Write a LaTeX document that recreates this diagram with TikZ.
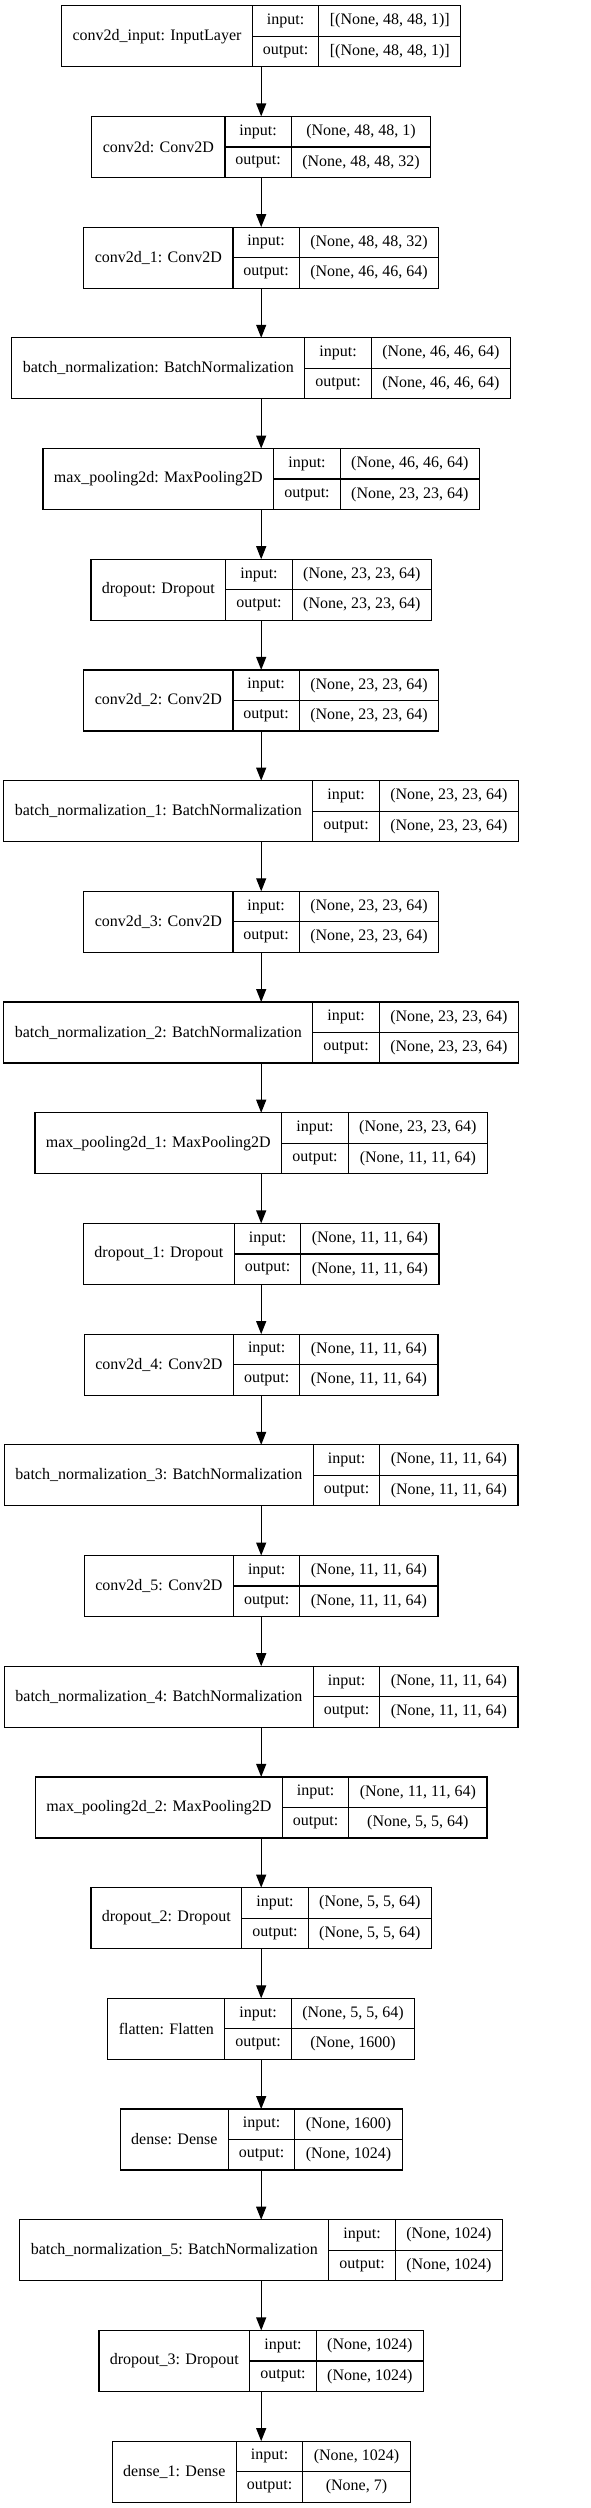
\documentclass[tikz,border=0pt]{standalone}
\usepackage{fontspec}
\setmainfont{Liberation Serif}
\usepackage{tikz}
\usetikzlibrary{arrows.meta,positioning}
\usepackage{xcolor}
\definecolor{KerasBlack}{HTML}{000000}
\definecolor{KerasWhite}{HTML}{ffffff}
\newlength{\namewd}
\newlength{\shapewd}
\newlength{\tmpwd}
\newcommand{\layerfont}{\fontsize{16pt}{19pt}\selectfont}
% width of a text in the layer font, also inside a picture
\newcommand{\textwd}[2]{%
    \pgfinterruptpicture\settowidth{\tmpwd}{\layerfont #2}\global#1=\tmpwd\endpgfinterruptpicture}
\tikzset{
    % Whole record, sized from its fields
    layer frame/.style={
        rectangle,
        draw=none,
        fill=KerasWhite,
        inner sep=0pt,
        outer sep=0pt,
        minimum height=61pt
    },
    % One field of a record
    field/.style={
        rectangle,
        draw=KerasBlack,
        line width=1.2pt,
        inner sep=0pt,
        outer sep=0pt,
        text=KerasBlack,
        align=center,
        font=\layerfont
    },
    port/.style={
        field,
        minimum width=66.4pt,
        minimum height=30.5pt
    },
    arrow/.style={
        -{Triangle[length=13pt,width=10pt]},
        line width=1.2pt,
        color=KerasBlack
    }
}
% #1 node name, #2 placement, #3 layer text, #4 input shape, #5 output shape
\newcommand{\kerasLayer}[5]{%
    \textwd{\namewd}{#3}\textwd{\shapewd}{#4}\textwd{\tmpwd}{#5}%
    \ifdim\tmpwd>\shapewd \global\shapewd=\tmpwd\fi
    \global\advance\namewd by 22pt
    \global\advance\shapewd by 22pt
    \node[layer frame, minimum width=\namewd+66.4pt+\shapewd, #2] (#1) {};
    \node[field, minimum width=\namewd, minimum height=61pt, anchor=west] (#1-name) at (#1.west) {#3};
    \node[port, anchor=north west] (#1-in) at (#1-name.north east) {input:};
    \node[port, anchor=north west] (#1-out) at (#1-in.south west) {output:};
    \node[field, minimum width=\shapewd, minimum height=30.5pt, anchor=north west] (#1-inshape) at (#1-in.north east) {#4};
    \node[field, minimum width=\shapewd, minimum height=30.5pt, anchor=north west] (#1-outshape) at (#1-out.north east) {#5};
}
\begin{document}
\begin{tikzpicture}[x=1pt, y=1pt, node distance=49.7pt]
    \useasboundingbox (0,0) rectangle (591,-2508);
    \kerasLayer{input}{at={(261.2,-36.2)}}{conv2d\_input: InputLayer}{[(None, 48, 48, 1)]}{[(None, 48, 48, 1)]}
    \kerasLayer{conv0}{below=of input}{conv2d: Conv2D}{(None, 48, 48, 1)}{(None, 48, 48, 32)}
    \kerasLayer{conv1}{below=of conv0}{conv2d\_1: Conv2D}{(None, 48, 48, 32)}{(None, 46, 46, 64)}
    \kerasLayer{bn0}{below=of conv1}{batch\_normalization: BatchNormalization}{(None, 46, 46, 64)}{(None, 46, 46, 64)}
    \kerasLayer{pool0}{below=of bn0}{max\_pooling2d: MaxPooling2D}{(None, 46, 46, 64)}{(None, 23, 23, 64)}
    \kerasLayer{drop0}{below=of pool0}{dropout: Dropout}{(None, 23, 23, 64)}{(None, 23, 23, 64)}
    \kerasLayer{conv2}{below=of drop0}{conv2d\_2: Conv2D}{(None, 23, 23, 64)}{(None, 23, 23, 64)}
    \kerasLayer{bn1}{below=of conv2}{batch\_normalization\_1: BatchNormalization}{(None, 23, 23, 64)}{(None, 23, 23, 64)}
    \kerasLayer{conv3}{below=of bn1}{conv2d\_3: Conv2D}{(None, 23, 23, 64)}{(None, 23, 23, 64)}
    \kerasLayer{bn2}{below=of conv3}{batch\_normalization\_2: BatchNormalization}{(None, 23, 23, 64)}{(None, 23, 23, 64)}
    \kerasLayer{pool1}{below=of bn2}{max\_pooling2d\_1: MaxPooling2D}{(None, 23, 23, 64)}{(None, 11, 11, 64)}
    \kerasLayer{drop1}{below=of pool1}{dropout\_1: Dropout}{(None, 11, 11, 64)}{(None, 11, 11, 64)}
    \kerasLayer{conv4}{below=of drop1}{conv2d\_4: Conv2D}{(None, 11, 11, 64)}{(None, 11, 11, 64)}
    \kerasLayer{bn3}{below=of conv4}{batch\_normalization\_3: BatchNormalization}{(None, 11, 11, 64)}{(None, 11, 11, 64)}
    \kerasLayer{conv5}{below=of bn3}{conv2d\_5: Conv2D}{(None, 11, 11, 64)}{(None, 11, 11, 64)}
    \kerasLayer{bn4}{below=of conv5}{batch\_normalization\_4: BatchNormalization}{(None, 11, 11, 64)}{(None, 11, 11, 64)}
    \kerasLayer{pool2}{below=of bn4}{max\_pooling2d\_2: MaxPooling2D}{(None, 11, 11, 64)}{(None, 5, 5, 64)}
    \kerasLayer{drop2}{below=of pool2}{dropout\_2: Dropout}{(None, 5, 5, 64)}{(None, 5, 5, 64)}
    \kerasLayer{flat}{below=of drop2}{flatten: Flatten}{(None, 5, 5, 64)}{(None, 1600)}
    \kerasLayer{dense0}{below=of flat}{dense: Dense}{(None, 1600)}{(None, 1024)}
    \kerasLayer{bn5}{below=of dense0}{batch\_normalization\_5: BatchNormalization}{(None, 1024)}{(None, 1024)}
    \kerasLayer{drop3}{below=of bn5}{dropout\_3: Dropout}{(None, 1024)}{(None, 1024)}
    \kerasLayer{dense1}{below=of drop3}{dense\_1: Dense}{(None, 1024)}{(None, 7)}

    \foreach \from/\to in {input/conv0, conv0/conv1, conv1/bn0, bn0/pool0, pool0/drop0,
        drop0/conv2, conv2/bn1, bn1/conv3, conv3/bn2, bn2/pool1, pool1/drop1,
        drop1/conv4, conv4/bn3, bn3/conv5, conv5/bn4, bn4/pool2, pool2/drop2,
        drop2/flat, flat/dense0, dense0/bn5, bn5/drop3, drop3/dense1}
        \draw[arrow] (\from) -- (\to);
\end{tikzpicture}
\end{document}
